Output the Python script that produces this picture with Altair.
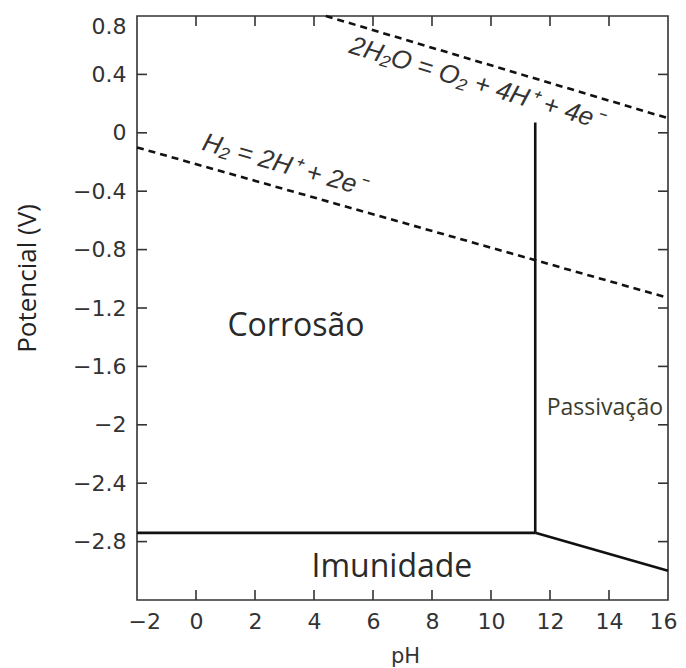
import altair as alt
import pandas as pd

# ---- data ----
x_domain = [-2, 16]
y_domain = [-3.2, 0.8]
x_ticks = [-2, 0, 2, 4, 6, 8, 10, 12, 14, 16]
y_ticks = [0.8, 0.4, 0, -0.4, -0.8, -1.2, -1.6, -2, -2.4, -2.8]
x_inner_ticks = [0, 2, 4, 6, 8, 10, 12, 14]
y_inner_ticks = [0.4, 0, -0.4, -0.8, -1.2, -1.6, -2, -2.4, -2.8]

# solid phase boundaries (segments)
solid_x1 = [-2, 11.5, 11.5]
solid_y1 = [-2.74, -2.74, -2.74]
solid_x2 = [11.5, 11.5, 16]
solid_y2 = [-2.74, 0.07, -3.0]

# dashed water-stability lines
dash_x1 = [-2, 4.4]
dash_y1 = [-0.1, 0.8]
dash_x2 = [16, 16]
dash_y2 = [-1.13, 0.1]

eq_labels = ["H₂ = 2H⁺ + 2e⁻", "2H₂O = O₂ + 4H⁺ + 4e⁻"]
eq_x = [2.98, 9.49]
eq_y = [-0.22, 0.34]
eq_angle = [16, 17]

region_labels = ["Corrosão", "Imunidade"]
region_x = [3.39, 6.64]
region_y = [-1.39, -3.04]

pass_label = ["Passivação"]
pass_x = [13.86]
pass_y = [-1.93]

W, H = 531, 584

solid_df = pd.DataFrame({"x1": solid_x1, "y1": solid_y1, "x2": solid_x2, "y2": solid_y2})
dash_df = pd.DataFrame({"x1": dash_x1, "y1": dash_y1, "x2": dash_x2, "y2": dash_y2})
eq_df = pd.DataFrame({"label": eq_labels, "x": eq_x, "y": eq_y, "angle": eq_angle})
reg_df = pd.DataFrame({"label": region_labels, "x": region_x, "y": region_y})
pass_df = pd.DataFrame({"label": pass_label, "x": pass_x, "y": pass_y})
xt_df = pd.DataFrame({"t": x_inner_ticks})
yt_df = pd.DataFrame({"t": y_inner_ticks})

xs = alt.Scale(domain=x_domain, nice=False, zero=False)
ys = alt.Scale(domain=y_domain, nice=False, zero=False)

x_axis = alt.Axis(values=x_ticks, format="~g", title="pH", ticks=False, domain=False, grid=False,
                  labelFont="DejaVu Sans", labelFontSize=22, labelColor="#333",
                  labelPadding=11, labelFlush=True, labelFlushOffset=9,
                  titleFont="DejaVu Sans", titleFontSize=21,
                  titleFontWeight="normal", titleColor="#333",
                  titleX=268, titleY=62, titleBaseline="alphabetic", titleAlign="center")
y_axis = alt.Axis(values=y_ticks, format="~g", title="Potencial (V)", ticks=False, domain=False, grid=False,
                  labelFont="DejaVu Sans", labelFontSize=22, labelColor="#333",
                  labelPadding=11, labelFlush=True, labelFlushOffset=0,
                  titleFont="Open Sans", titleFontSize=26,
                  titleFontWeight="normal", titleColor="#222",
                  titleX=-110, titleY=262, titleAngle=-90, titleBaseline="middle", titleAlign="center")

X1 = alt.X("x1:Q", scale=xs, axis=x_axis)
Y1 = alt.Y("y1:Q", scale=ys, axis=y_axis)

solid = alt.Chart(solid_df).mark_rule(color="#111", strokeWidth=2.6).encode(
    x=X1, y=Y1, x2="x2:Q", y2="y2:Q")

dashed = alt.Chart(dash_df).mark_rule(color="#111", strokeWidth=2.6, strokeDash=[7, 5]).encode(
    x=X1, y=Y1, x2="x2:Q", y2="y2:Q")

eq_text = alt.Chart(eq_df).mark_text(font="Liberation Sans", fontStyle="italic", fontSize=26,
                                     color="#333", align="center", baseline="middle").encode(
    x=alt.X("x:Q", scale=xs, axis=x_axis), y=alt.Y("y:Q", scale=ys, axis=y_axis),
    text="label:N", angle=alt.Angle("angle:Q", scale=None))

reg_text = alt.Chart(reg_df).mark_text(font="Open Sans", fontSize=32, color="#2a2a2a",
                                       align="center", baseline="alphabetic").encode(
    x=alt.X("x:Q", scale=xs, axis=x_axis), y=alt.Y("y:Q", scale=ys, axis=y_axis), text="label:N")

pass_text = alt.Chart(pass_df).mark_text(font="Open Sans", fontSize=23, color="#3b3b2e",
                                         align="center", baseline="alphabetic").encode(
    x=alt.X("x:Q", scale=xs, axis=x_axis), y=alt.Y("y:Q", scale=ys, axis=y_axis), text="label:N")

tick_style = dict(color="#333", strokeWidth=1.6)
xt = alt.X("t:Q", scale=xs, axis=x_axis)
yt = alt.Y("t:Q", scale=ys, axis=y_axis)
bottom_ticks = alt.Chart(xt_df).mark_rule(**tick_style).encode(x=xt, y=alt.value(H), y2=alt.value(H - 10))
top_ticks = alt.Chart(xt_df).mark_rule(**tick_style).encode(x=xt, y=alt.value(0), y2=alt.value(10))
left_ticks = alt.Chart(yt_df).mark_rule(**tick_style).encode(y=yt, x=alt.value(0), x2=alt.value(10))
right_ticks = alt.Chart(yt_df).mark_rule(**tick_style).encode(y=yt, x=alt.value(W), x2=alt.value(W - 10))

chart = alt.layer(
    bottom_ticks, top_ticks, left_ticks, right_ticks,
    solid, dashed, eq_text, reg_text, pass_text
).properties(
    width=W, height=H,
    autosize=alt.AutoSizeParams(type="none"),
    padding={"left": 129, "top": 8, "right": 10, "bottom": 68},
    background="white",
).configure_view(stroke="#333", strokeWidth=1.6)

chart.save("out.html", embed_options={"renderer": "svg", "actions": False})
